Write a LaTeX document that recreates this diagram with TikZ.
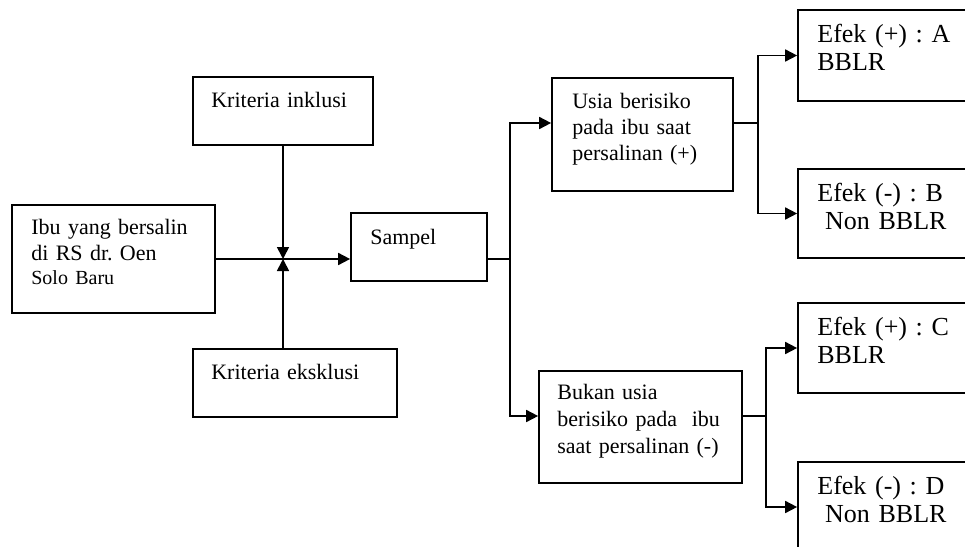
\documentclass[tikz,border=0pt]{standalone}
\usepackage{fontspec}
\setmainfont{Liberation Serif}
\usepackage{tikz}
\usetikzlibrary{arrows.meta}
\frenchspacing

\begin{document}
\begin{tikzpicture}[x=1pt,y=-1pt,
    bx/.style={draw,line width=1.7pt,inner sep=0pt},
    txt/.style={anchor=base west,inner sep=0pt,text width=200pt,align=left,font=\fontsize{22}{26}\selectfont},
    txtbig/.style={txt,font=\fontsize{26}{28}\selectfont},
    ln/.style={line width=1.7pt},
    arr/.style={-{Triangle[length=12pt,width=12pt]}}]
        \clip(0,0)rectangle(965,546);
        % kotak kiri dan tengah
        \node[bx,minimum width=203pt,minimum height=108pt](ibu)at(113.5,259){};
        \node[bx,minimum width=180pt,minimum height=68pt](inkl)at(283,111){};
        \node[bx,minimum width=204pt,minimum height=68pt](eks)at(295,383){};
        \node[bx,minimum width=136pt,minimum height=68pt](smp)at(419,247){};
        \node[bx,minimum width=181pt,minimum height=113pt](usia)at(642.5,134.5){};
        \node[bx,minimum width=203pt,minimum height=112pt](bukan)at(640.5,427){};
        % kotak efek
        \node[bx,minimum width=200pt,minimum height=91pt](efA)at(898,55.5){};
        \node[bx,minimum width=200pt,minimum height=89pt](efB)at(898,213.5){};
        \node[bx,minimum width=200pt,minimum height=90pt](efC)at(898,348){};
        \node[bx,minimum width=200pt,minimum height=90pt](efD)at(898,507){};
        % teks
        \node[txt](tibu)at([shift={(20,30)}]ibu.north west){Ibu yang bersalin\\di RS dr. Oen\\[-2pt]{\fontsize{20}{24}\selectfont Solo Baru}};
        \node[txt](tinkl)at([shift={(19,31)}]inkl.north west){Kriteria inklusi};
        \node[txt](teks)at([shift={(19,31)}]eks.north west){Kriteria eksklusi};
        \node[txt](tsmp)at([shift={(20,32)}]smp.north west){Sampel};
        \node[txt](tusia)at([shift={(21,31)}]usia.north west){Usia berisiko\\pada ibu saat\\persalinan (+)};
        \node[txt](tbukan)at([shift={(19,29)}]bukan.north west){Bukan usia\\[1pt]berisiko pada\ \ ibu\\[1pt]saat persalinan (-)};
        \node[txtbig](tefA)at([shift={(20,33.5)}]efA.north west){Efek (+) : A\\BBLR};
        \node[txtbig](tefB)at([shift={(20,33)}]efB.north west){Efek (-) : B\\\hspace*{0.3em}Non BBLR};
        \node[txtbig](tefC)at([shift={(20,33)}]efC.north west){Efek (+) : C\\BBLR};
        \node[txtbig](tefD)at([shift={(20,33)}]efD.north west){Efek (-) : D\\\hspace*{0.3em}Non BBLR};
        % panah kiri
        \coordinate(j)at(inkl.south|-ibu.east);
        \draw[ln,arr](ibu.east)--(ibu.east-|smp.west);
        \draw[ln,arr](inkl.south)--(j);
        \draw[ln,arr](eks.north-|j)--(j);
        % cabang sampel
        \coordinate(s1)at(510,259);
        \draw[ln](smp.east|-s1)--(s1);
        \draw[ln,arr](s1)|-([yshift=11.5pt]usia.west);
        \draw[ln,arr](s1)|-([yshift=11pt]bukan.west);
        % cabang efek
        \coordinate(s2)at(758,123);
        \draw[ln]([yshift=11.5pt]usia.east)--(s2);
        \draw[ln,arr](s2)|-(efA.west);
        \draw[ln,arr](s2)|-(efB.west);
        \coordinate(s3)at(766,416);
        \draw[ln]([yshift=11pt]bukan.east)--(s3);
        \draw[ln,arr](s3)|-(efC.west);
        \draw[ln,arr](s3)|-(efD.west);
    \end{tikzpicture}
\end{document}
